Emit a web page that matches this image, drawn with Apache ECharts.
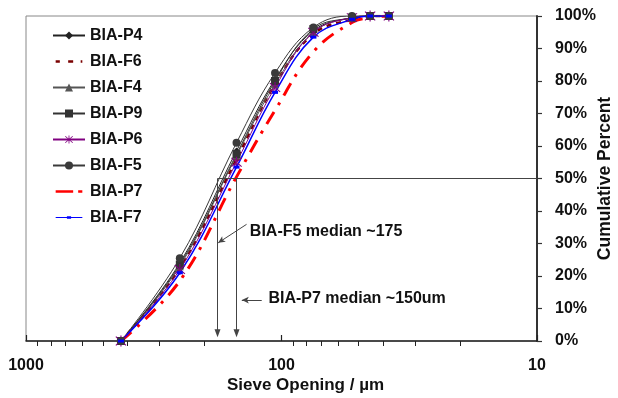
<!DOCTYPE html>
<html>
<head>
<meta charset="utf-8">
<script src="https://cdn.jsdelivr.net/npm/echarts@6/dist/echarts.min.js"></script>
<style>
  html, body { margin: 0; padding: 0; background: #fff; }
  #chart { width: 618px; height: 398px; }
</style>
</head>
<body>
<div id="chart"></div>
<script>
// sieve openings (um) and cumulative percent passing for each sample
const sieve = [425, 250, 150, 106, 75, 53, 45, 38];
const p4 = [0, 24, 58.5, 80.5, 95.5, 99.5, 100, 100];
const f6 = [0, 22.5, 56, 79, 94.5, 99, 100, 100];
const f4 = [0, 23, 57, 79, 95, 99.5, 100, 100];
const p9 = [0, 23.5, 57.5, 80, 96, 99.5, 100, 100];
const p6 = [0, 22, 55, 78, 95, 99.5, 100, 100];
const f5 = [0, 25.5, 61, 82.5, 96.5, 100, 100, 100];
const p7 = [0, 18.5, 50.5, 71, 89, 98, 99.5, 100];
const f7 = [0, 21, 53.5, 76.5, 93.5, 99, 100, 100];

const majorTicks = [1000, 100, 10];
const minorTicks = [900, 800, 700, 600, 500, 400, 300, 200, 90, 80, 70, 60, 50, 40, 30, 20];

// annotation values
const medianF5 = 178;
const medianP7 = 150;
const arrowBottom = 2.4;
const noteF5 = { text: 'BIA-F5 median ~175', at: [133, 33.8], from: [137, 35.9], to: [177, 30.2] };
const noteP7 = { text: 'BIA-P7 median ~150um', at: [112.5, 13.2], from: [119.5, 12.6], to: [143, 12.6] };

const asterisk = 'path://M-0.45,-5L0.45,-5L0.45,5L-0.45,5Z M-4.3,-3.7L3.7,4.3L4.3,3.7L-3.7,-4.3Z M-4.3,3.7L-3.7,4.3L4.3,-3.7L3.7,-4.3Z';
// legend icons drawn as dash patterns inside a 32x12 box (corner specks fix the box)
const box = 'M0,0h0.01v0.01h-0.01z M32,12h-0.01v-0.01h0.01z ';
const iconF6 = 'path://' + box + 'M0,4.5h5v3h-5z M15,4.5h6v3h-6z M30,4.5h2v3h-2z';
const iconP7 = 'path://' + box + 'M0,4.5h21v3h-21z M27,4.5h5v3h-5z';
const iconF7 = 'path://' + box + 'M0,5.3h32v1.4h-32z M13.5,4.5h5v3h-5z';

const font = 'Liberation Sans, Arial, sans-serif';
const boldText = { fontFamily: font, fontSize: 16, fontWeight: 'bold', color: '#111' };

function pairs(vals) {
  return sieve.map((s, i) => [s, vals[i]]);
}

function line(name, vals, color, opts) {
  return Object.assign({
    name: name,
    type: 'line',
    smooth: 0.4,
    data: pairs(vals),
    itemStyle: { color: color },
    lineStyle: { color: color, width: 1 },
    z: 3
  }, opts);
}

const chart = echarts.init(document.getElementById('chart'), null, { renderer: 'canvas' });

chart.setOption({
  animation: false,
  grid: {
    left: 26, right: 81, top: 16, bottom: 57,
    outerBoundsMode: 'none',
    containLabel: false,
    show: true, borderColor: '#888', borderWidth: 1
  },
  legend: {
    orient: 'vertical',
    left: 52,
    top: 27.5,
    padding: 0,
    itemWidth: 32,
    itemHeight: 10,
    itemGap: 10,
    data: [
      'BIA-P4',
      { name: 'BIA-F6', icon: iconF6 },
      'BIA-F4',
      'BIA-P9',
      'BIA-P6',
      'BIA-F5',
      { name: 'BIA-P7', icon: iconP7 },
      { name: 'BIA-F7', icon: iconF7 }
    ],
    textStyle: boldText
  },
  xAxis: [
    {
      type: 'log',
      logBase: 10,
      min: 10,
      max: 1000,
      inverse: true,
      name: 'Sieve Opening / µm',
      nameLocation: 'middle',
      nameGap: 36,
      nameMoveOverlap: false,
      nameTextStyle: Object.assign({}, boldText, { fontSize: 17, padding: [0, 0, 0, 48] }),
      axisLine: { lineStyle: { color: '#222', width: 1.5 } },
      axisTick: { inside: true, length: 6, customValues: majorTicks, lineStyle: { color: '#222', width: 1.2 } },
      axisLabel: Object.assign({ margin: 17, customValues: majorTicks, formatter: v => String(v) }, boldText),
      splitLine: { show: false }
    },
    {
      type: 'log',
      logBase: 10,
      min: 10,
      max: 1000,
      inverse: true,
      position: 'bottom',
      axisLine: { show: false },
      axisTick: { inside: false, length: 5, customValues: minorTicks, lineStyle: { color: '#222', width: 1 } },
      axisLabel: { show: false },
      splitLine: { show: false }
    }
  ],
  yAxis: {
    type: 'value',
    position: 'right',
    min: 0,
    max: 100,
    interval: 10,
    name: 'Cumulative Percent',
    nameLocation: 'middle',
    nameRotate: 90,
    nameGap: 59,
    nameMoveOverlap: false,
    nameTextStyle: Object.assign({}, boldText, { fontSize: 17.5 }),
    axisLine: { show: true, lineStyle: { color: '#333', width: 2 } },
    axisTick: { show: true, inside: false, length: 5, lineStyle: { color: '#333', width: 1.2 } },
    axisLabel: Object.assign({ margin: 18, formatter: '{value}%' }, boldText),
    splitLine: { show: false }
  },
  series: [
    line('BIA-P4', p4, '#222', { symbol: 'diamond', symbolSize: 7 }),
    line('BIA-F6', f6, '#7a0000', { symbol: 'rect', symbolSize: [5, 3], lineStyle: { color: '#7a0000', width: 2.5, type: [5, 5] } }),
    line('BIA-F4', f4, '#555', { symbol: 'triangle', symbolSize: 8 }),
    line('BIA-P9', p9, '#333', { symbol: 'rect', symbolSize: 8 }),
    line('BIA-P6', p6, '#800080', { symbol: asterisk, symbolSize: 11 }),
    line('BIA-F5', f5, '#3a3a3a', { symbol: 'circle', symbolSize: 8 }),
    line('BIA-P7', p7, '#ff0000', { symbol: 'none', lineStyle: { color: '#ff0000', width: 3, type: [14, 8, 3, 8] } }),
    line('BIA-F7', f7, '#0000ff', { symbol: 'rect', symbolSize: [6, 3], lineStyle: { color: '#0000ff', width: 1.5 } }),
    {
      name: 'notes',
      type: 'line',
      data: [],
      silent: true,
      z: 2,
      markLine: {
        silent: true,
        animation: false,
        label: { show: false },
        lineStyle: { color: '#444', width: 1, type: 'solid' },
        symbol: ['none', 'none'],
        data: [
          [{ coord: [medianF5, 50] }, { coord: [10, 50] }],
          [{ coord: [medianF5, 50], symbol: 'none' }, { coord: [medianF5, arrowBottom], symbol: 'triangle', symbolSize: [6, 8], symbolRotate: 180 }],
          [{ coord: [medianP7, 50], symbol: 'none' }, { coord: [medianP7, arrowBottom], symbol: 'triangle', symbolSize: [6, 8], symbolRotate: 180 }],
          [{ coord: noteF5.from, symbol: 'none' }, { coord: noteF5.to, symbol: 'arrow', symbolSize: [5, 7] }],
          [{ coord: noteP7.from, symbol: 'none' }, { coord: noteP7.to, symbol: 'arrow', symbolSize: [5, 7] }]
        ]
      },
      markPoint: {
        silent: true,
        symbol: 'circle',
        symbolSize: 0,
        label: Object.assign({ show: true, position: 'right', distance: 0 }, boldText),
        data: [
          { coord: noteF5.at, value: noteF5.text, label: { formatter: noteF5.text } },
          { coord: noteP7.at, value: noteP7.text, label: { formatter: noteP7.text } }
        ]
      }
    }
  ]
});
</script>
</body>
</html>
